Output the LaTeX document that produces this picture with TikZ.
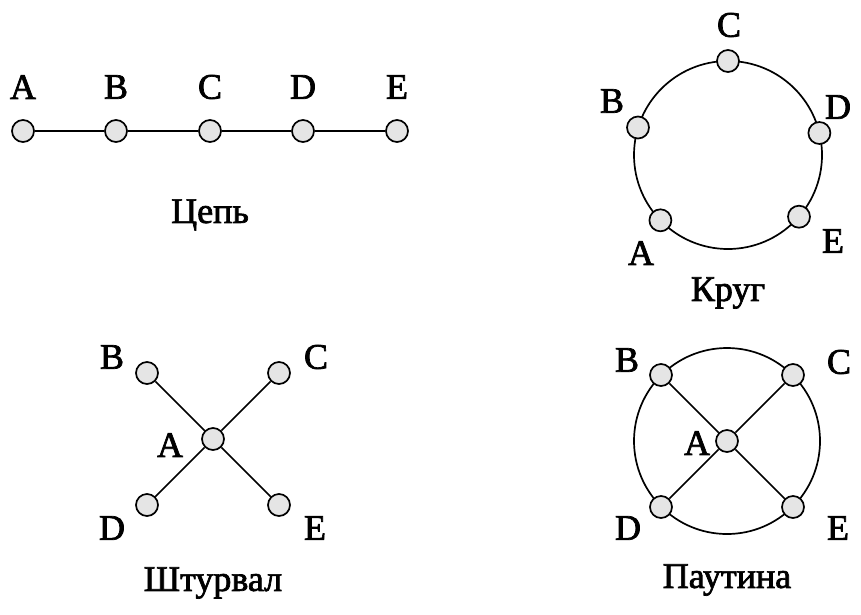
\documentclass[tikz,border=0pt]{standalone}
\usepackage{fontspec}
\setmainfont{Liberation Serif}[FakeBold=2]
\usepackage{tikz}

\begin{document}
\begin{tikzpicture}[x=1pt,y=-1pt,
  vert/.style={circle,draw,line width=1.7pt,fill=gray!20,minimum size=22pt,inner sep=0pt},
  lbl/.style={font=\fontsize{36}{40}\selectfont,inner sep=0pt},
  edge/.style={line width=1.7pt}]
  \useasboundingbox (0,0) rectangle (861,614);
  % chain
  \foreach \n/\x in {A/23,B/116,C/210,D/303,E/397} {
    \node[vert] (c\n) at (\x,131) {};
    \node[lbl] (lc\n) at (\x,87) {\n};
  }
  \draw[edge] (cA) -- (cB) -- (cC) -- (cD) -- (cE);
  \node[lbl] (tc) at (210,215) {Цепь};
  % ring
  \draw[edge] (728,155) circle (94);
  \node[vert] (kC) at (728,61) {};
  \node[vert] (kB) at (638,127.5) {};
  \node[vert] (kD) at (819.4,133) {};
  \node[vert] (kA) at (660.4,220.3) {};
  \node[vert] (kE) at (799,216.7) {};
  \node[lbl] (lkC) at (729,25) {C};
  \node[lbl] (lkB) at (612,101) {B};
  \node[lbl] (lkD) at (838,107) {D};
  \node[lbl] (lkA) at (641,253) {A};
  \node[lbl] (lkE) at (833,241) {E};
  \node[lbl] (tk) at (728,293) {Круг};
  % wheel
  \node[vert] (sA) at (213,439) {};
  \node[vert] (sB) at (147,373) {};
  \node[vert] (sC) at (279,373) {};
  \node[vert] (sD) at (147,505) {};
  \node[vert] (sE) at (279,505) {};
  \foreach \n in {B,C,D,E} \draw[edge] (sA) -- (s\n);
  \node[lbl] (lsB) at (112,357) {B};
  \node[lbl] (lsC) at (316,357) {C};
  \node[lbl] (lsA) at (170,445) {A};
  \node[lbl] (lsD) at (112,528) {D};
  \node[lbl] (lsE) at (315,528) {E};
  \node[lbl] (ts) at (213,583) {Штурвал};
  % web
  \draw[edge] (727,441) circle (93);
  \node[vert] (pA) at (727,441) {};
  \node[vert] (pB) at (661,375) {};
  \node[vert] (pC) at (793,375) {};
  \node[vert] (pD) at (661,507) {};
  \node[vert] (pE) at (793,507) {};
  \foreach \n in {B,C,D,E} \draw[edge] (pA) -- (p\n);
  \node[lbl] (lpB) at (627,360) {B};
  \node[lbl] (lpC) at (839,362) {C};
  \node[lbl] (lpA) at (697,443) {A};
  \node[lbl] (lpD) at (628,528) {D};
  \node[lbl] (lpE) at (838,528) {E};
  \node[lbl] (tp) at (727,580) {Паутина};
\end{tikzpicture}
\end{document}
